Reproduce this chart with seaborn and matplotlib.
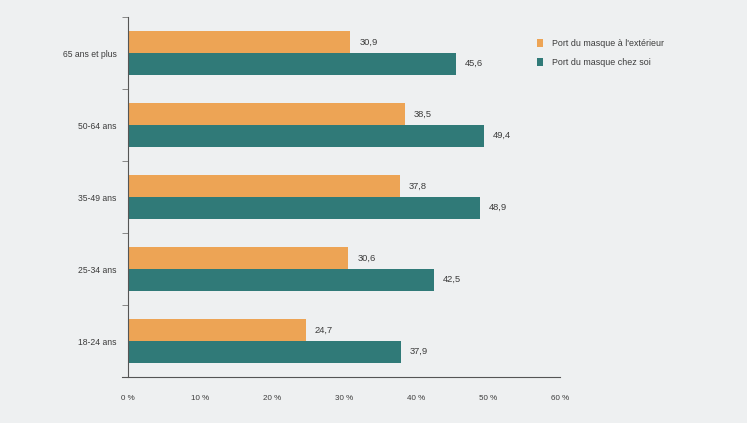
import matplotlib
matplotlib.use("Agg")
import matplotlib.pyplot as plt
from matplotlib import font_manager
import seaborn as sns
import pandas as pd
from matplotlib.ticker import FixedLocator

categories = ["65 ans et plus", "50-64 ans", "35-49 ans", "25-34 ans", "18-24 ans"]
series_names = ["Port du masque à l'extérieur", "Port du masque chez soi"]
exterieur = [30.9, 38.5, 37.8, 30.6, 24.7]
chez_soi = [45.6, 49.4, 48.9, 42.5, 37.9]
xticks = [0, 10, 20, 30, 40, 50, 60]
xticklabels = ["0 %", "10 %", "20 %", "30 %", "40 %", "50 %", "60 %"]

colors = ["#EDA455", "#307A78"]
bg = "#EEF0F1"
txt = "#3c3c3c"

df = pd.DataFrame({
    "age": categories * 2,
    "serie": [series_names[0]] * 5 + [series_names[1]] * 5,
    "val": exterieur + chez_soi,
})

sns.set_theme(style="white")
available = {f.name for f in font_manager.fontManager.ttflist}
narrow = "Liberation Sans Narrow" in available
family = "Liberation Sans Narrow" if narrow else "Liberation Sans"
scale = 1.0 if narrow else 0.82
plt.rcParams["font.family"] = [family, "DejaVu Sans"]

fs_y = 7.6 * scale
fs_x = 7.0 * scale
fs_v = 8.2 * scale
fs_l = 7.8 * scale

fig = plt.figure(figsize=(7.47, 4.23), dpi=100, facecolor=bg)
ax = fig.add_axes([122 / 747, 1 - 377 / 423, (560 - 122) / 747, (377 - 17) / 423])
ax.set_facecolor(bg)

sns.barplot(data=df, y="age", x="val", hue="serie", order=categories,
            hue_order=series_names, palette=colors, orient="h",
            width=0.6, saturation=1, linewidth=0, ax=ax, legend=True)

ax.set_xlim(-0.8, 60)
ax.set_ylim(4.5, -0.5)
ax.spines["left"].set_position(("data", 0))
for s in ["top", "right"]:
    ax.spines[s].set_visible(False)
for s in ["left", "bottom"]:
    ax.spines[s].set_color("#555555")
    ax.spines[s].set_linewidth(0.8)

ax.set_xticks(xticks)
ax.set_xticklabels(xticklabels)
ax.tick_params(axis="x", direction="out", length=4, width=0.6, color="#777777",
               labelsize=fs_x, labelcolor=txt, pad=9)
ax.yaxis.set_minor_locator(FixedLocator([-0.5, 0.5, 1.5, 2.5, 3.5, 4.5]))
ax.tick_params(axis="y", which="major", length=0, labelsize=fs_y, labelcolor=txt, pad=8)
ax.tick_params(axis="y", which="minor", left=True, direction="out", length=4,
               width=0.6, color="#777777")
ax.set_xlabel("")
ax.set_ylabel("")

for cont, vals in zip(ax.containers, [exterieur, chez_soi]):
    ax.bar_label(cont, labels=[f"{v:.1f}".replace(".", ",") for v in vals],
                 padding=6.5, fontsize=fs_v, color=txt)

leg = ax.legend(loc="upper left", bbox_to_anchor=(0.93, 0.962), frameon=False,
                fontsize=fs_l, handlelength=0.6, handleheight=1.1, handletextpad=1.1,
                labelspacing=1.1, labelcolor=txt)

fig.savefig("out.png", dpi=100, facecolor=bg)
